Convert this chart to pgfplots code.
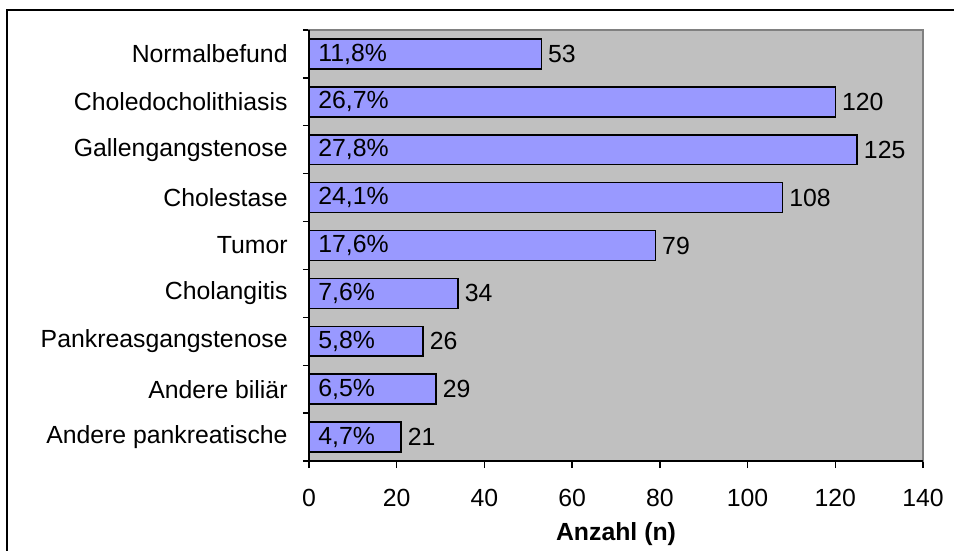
\documentclass[border=0pt]{standalone}
\usepackage{fontspec}
\setmainfont{Liberation Sans}
\usepackage{pgfplots}
\usepackage{pgfplotstable}
\pgfplotsset{compat=1.18}
\definecolor{barfill}{RGB}{153,153,255}
\definecolor{plotbg}{RGB}{192,192,192}
\definecolor{frameg}{RGB}{128,128,128}

\pgfplotstableread{
pos z n pct
8 0 53 11,8\%
7 0 120 26,7\%
6 0 125 27,8\%
5 0 108 24,1\%
4 0 79 17,6\%
3 0 34 7,6\%
2 0 26 5,8\%
1 0 29 6,5\%
0 0 21 4,7\%
}\datatable

\begin{document}
\begin{tikzpicture}[font=\fontsize{12.45}{15}\selectfont]
\clip (0,0) rectangle (477bp,275.5bp);
\draw[line width=1bp] (3.5bp,-10bp) rectangle (490bp,270.5bp);
\begin{axis}[
  at={(154.5bp,45bp)}, anchor=south west,
  scale only axis, width=307bp, height=215.5bp,
  xmin=0, xmax=140, ymin=-0.5, ymax=8.5,
  clip=false,
  axis background/.style={fill=plotbg},
  axis line style={draw=frameg, line width=0.6bp},
  /pgf/number format/assume math mode=true,
  xtick={0,20,...,140},
  ytick={0,...,8},
  yticklabels={Andere pankreatische, Andere biliär, Pankreasgangstenose, Cholangitis, Tumor, Cholestase, Gallengangstenose, Choledocholithiasis, Normalbefund},
  minor ytick={-0.5,0.5,...,8.5},
  xtick pos=bottom, ytick pos=left,
  tick align=outside,
  major tick length=3.5bp, minor tick length=3bp,
  every tick/.style={black, line width=0.7bp},
  every major y tick/.append style={draw=none},
  xticklabel style={anchor=north, inner sep=0pt, yshift=-10.5bp, font=\fontsize{12.45}{15}\selectfont},
  yticklabel style={anchor=east, inner sep=0pt, xshift=-7bp, font=\fontsize{12.45}{15}\selectfont},
  xlabel={Anzahl (n)},
  xlabel style={at={(rel axis cs:0.5,0)}, anchor=center, yshift=-36.5bp, font=\fontsize{12.45}{15}\selectfont\bfseries},
]
\addplot[xbar, bar width=0.625, fill=barfill, draw=black, line width=0.75bp,
  nodes near coords,
  every node near coord/.append style={anchor=west, inner sep=0pt, xshift=3bp, black, font=\fontsize{12.45}{15}\selectfont}]
  table[x=n, y=pos] {\datatable};
\addplot[draw=none, mark=none, nodes near coords, point meta=explicit symbolic,
  every node near coord/.append style={anchor=west, inner sep=0pt, xshift=4.5bp, black, font=\fontsize{12.45}{15}\selectfont}]
  table[x=z, y=pos, meta=pct] {\datatable};
\draw[black, line width=0.75bp] (rel axis cs:0,1) -- (rel axis cs:0,0) -- (rel axis cs:1,0);
\end{axis}
\end{tikzpicture}
\end{document}
